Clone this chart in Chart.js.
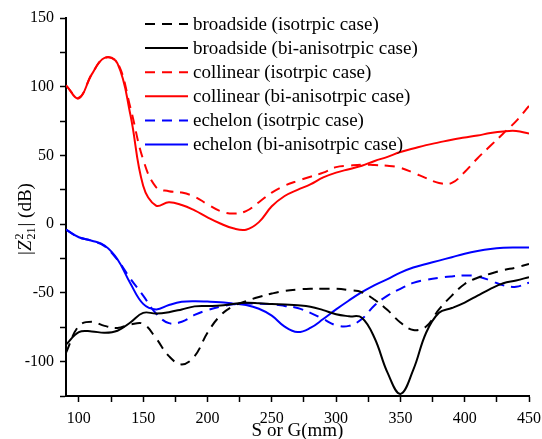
<!DOCTYPE html>
<html>
<head>
<meta charset="utf-8">
<script src="https://cdn.jsdelivr.net/npm/chart.js@4/dist/chart.umd.min.js"></script>
<style>
  html, body { margin: 0; padding: 0; background: #fff; }
</style>
</head>
<body>
<canvas id="z21-chart" width="542" height="439"></canvas>
<script>
// spacing S or G in mm
const sValues = [90, 100, 110, 120, 130, 140, 150, 160, 170, 180, 190, 200, 210, 220, 230, 240, 250, 260, 270,
                 280, 290, 300, 310, 320, 330, 340, 350, 360, 370, 380, 390, 400, 410, 420, 430, 440, 450];

// |Z21^2| in dB
const broadsideIso = [-93.5, -74, -71, -74, -75.5, -73, -72.5, -83, -96, -102, -96, -79, -66.5, -59.7, -56, -53, -50.5, -48.5, -47.5,
                      -47, -47, -47, -48, -49.5, -55, -62.5, -71.5, -77, -74.5, -62, -52, -43.5, -39, -36, -33.5, -31.5, -29];
const broadsideBi = [-87.6, -78.5, -78, -79, -77.5, -71.5, -64.5, -65, -64, -62, -59.8, -59.5, -59.2, -58, -57.2, -57.5, -58, -58.5, -59,
                     -60, -62.5, -65.5, -67, -68, -83, -108, -123.5, -106, -79, -64.5, -61, -57, -52, -47, -43, -41, -38.5];
const collinearIso = [101, 92, 109, 121, 117.5, 85, 47, 27, 24, 23, 20, 14.5, 9.5, 7.8, 9.5, 16, 23, 28, 31.5,
                      34.5, 37.5, 41.5, 42.5, 43.3, 43, 42.5, 41, 37.5, 33.5, 30, 30, 38, 48, 57, 66, 75, 86];
const collinearBi = [101, 91.5, 109, 121, 117, 80, 28, 13.5, 16, 14, 10, 5, 0.5, -3, -4, 1.5, 13, 20.5, 25,
                     29, 34, 37.5, 40, 42.5, 46, 49, 52.5, 55, 57.5, 59.5, 61.5, 63, 64.5, 66.3, 67.5, 67.8, 66];
const echelonIso = [-4, -9.5, -12, -16, -26, -39.5, -52, -65, -72, -71, -66, -62.5, -60, -58.3, -57.8, -57.8, -58.2, -59.5, -61,
                    -64.5, -69, -73.5, -74, -69, -59, -52, -47, -42.7, -40.5, -39, -38, -37.3, -38, -41, -44.5, -45.5, -42.5];
const echelonBi = [-4, -9.5, -12, -15.5, -25.5, -43, -58, -62, -58.8, -56.5, -56, -56.3, -56.8, -57.8, -58.8, -61.5, -66.5, -74.5, -78.5,
                   -75.5, -69, -62, -55.5, -49.5, -44.3, -40, -35.2, -31.5, -29, -26.5, -24, -21.5, -19.5, -18, -17.2, -17, -17];

const seriesLabels = [
    "broadside (isotrpic case)",
    "broadside (bi-anisotrpic case)",
    "collinear (isotrpic case)",
    "collinear (bi-anisotrpic case)",
    "echelon (isotrpic case)",
    "echelon (bi-anisotrpic case)"
];

const serif = '"Liberation Serif", "Times New Roman", serif';
const dash = [10, 7];

function toPoints(values) {
    return sValues.map((s, i) => ({ x: s, y: values[i] }));
}

function makeLine(label, values, color, dashed) {
    return {
        label,
        data: toPoints(values),
        borderColor: color,
        backgroundColor: color,
        borderWidth: 2,
        borderDash: dashed ? dash : [],
        pointRadius: 0,
        tension: 0.4,
        fill: false
    };
}

const datasets = [
    makeLine(seriesLabels[0], broadsideIso, "#000000", true),
    makeLine(seriesLabels[1], broadsideBi, "#000000", false),
    makeLine(seriesLabels[2], collinearIso, "#ff0000", true),
    makeLine(seriesLabels[3], collinearBi, "#ff0000", false),
    makeLine(seriesLabels[4], echelonIso, "#0000ff", true),
    makeLine(seriesLabels[5], echelonBi, "#0000ff", false)
];

// legend drawn inside the plot, line sample then text
const insideLegend = {
    id: "insideLegend",
    afterDraw(chart) {
        const ctx = chart.ctx;
        ctx.save();
        ctx.font = `19px ${serif}`;
        ctx.textBaseline = "middle";
        chart.data.datasets.forEach((ds, i) => {
            const y = 24 + i * 24.1;
            ctx.strokeStyle = ds.borderColor;
            ctx.lineWidth = 2;
            ctx.setLineDash(ds.borderDash);
            ctx.beginPath();
            ctx.moveTo(145, y);
            ctx.lineTo(188, y);
            ctx.stroke();
            ctx.setLineDash([]);
            ctx.fillStyle = "#000";
            ctx.fillText(ds.label, 193, y + 1);
        });
        ctx.restore();
    }
};

// rotated y title with super/subscripts: |Z^2_21| (dB)
const yTitle = {
    id: "yTitle",
    afterDraw(chart) {
        const ctx = chart.ctx;
        const big = 19, small = 12;
        ctx.save();
        ctx.fillStyle = "#000";
        ctx.textBaseline = "alphabetic";
        ctx.font = `${big}px ${serif}`;
        const wBar = ctx.measureText("|").width;
        const wEnd = ctx.measureText("| (dB)").width;
        ctx.font = `italic ${big}px ${serif}`;
        const wZ = ctx.measureText("Z").width;
        ctx.font = `${small}px ${serif}`;
        const wSub = ctx.measureText("21").width;
        const total = wBar + wZ + 1 + wSub + 1 + wEnd;

        ctx.translate(31, 219);
        ctx.rotate(-Math.PI / 2);
        let x = -total / 2;
        ctx.font = `${big}px ${serif}`;
        ctx.fillText("|", x, 0);
        x += wBar;
        ctx.font = `italic ${big}px ${serif}`;
        ctx.fillText("Z", x, 0);
        x += wZ + 1;
        ctx.font = `${small}px ${serif}`;
        ctx.fillText("2", x, -8);
        ctx.fillText("21", x, 4);
        x += wSub + 1;
        ctx.font = `${big}px ${serif}`;
        ctx.fillText("| (dB)", x, 0);
        ctx.restore();
    }
};

const tickFont = { family: serif, size: 16 };
const everyFifty = v => (v % 50 === 0 ? v : "");

// fixed axis boxes so the plot area lands at left 66, right 529, top 18, bottom 396
function fixBox(scale, size) {
    if (scale.isHorizontal()) {
        scale.height = size;
    } else {
        scale.width = size;
    }
    scale.paddingLeft = 0;
    scale.paddingRight = 0;
    scale.paddingTop = 0;
    scale.paddingBottom = 0;
}

new Chart(document.getElementById("z21-chart").getContext("2d"), {
    type: "line",
    data: { datasets },
    options: {
        responsive: false,
        animation: false,
        layout: { padding: { top: 18, right: 13, left: 0, bottom: 0 } },
        plugins: {
            legend: { display: false },
            tooltip: { enabled: false }
        },
        scales: {
            x: {
                type: "linear",
                min: 90,
                max: 450,
                border: { display: true, color: "#000", width: 2 },
                grid: { drawOnChartArea: false, drawTicks: true, tickLength: 6, tickColor: "#000", tickWidth: 1.5 },
                ticks: {
                    stepSize: 25,
                    includeBounds: false,
                    autoSkip: false,
                    maxRotation: 0,
                    color: "#000",
                    font: tickFont,
                    padding: 7,
                    callback: everyFifty
                },
                title: {
                    display: true,
                    text: "S or G(mm)",
                    color: "#000",
                    font: { family: serif, size: 19 },
                    padding: { top: 0, bottom: -3 }
                },
                afterFit: scale => fixBox(scale, 43)
            },
            y: {
                min: -125,
                max: 150,
                border: { display: true, color: "#000", width: 2 },
                grid: { drawOnChartArea: false, drawTicks: true, tickLength: 6, tickColor: "#000", tickWidth: 1.5 },
                ticks: {
                    stepSize: 25,
                    autoSkip: false,
                    color: "#000",
                    font: tickFont,
                    padding: 6,
                    callback: everyFifty
                },
                afterFit: scale => fixBox(scale, 66)
            }
        }
    },
    plugins: [insideLegend, yTitle]
});
</script>
</body>
</html>
